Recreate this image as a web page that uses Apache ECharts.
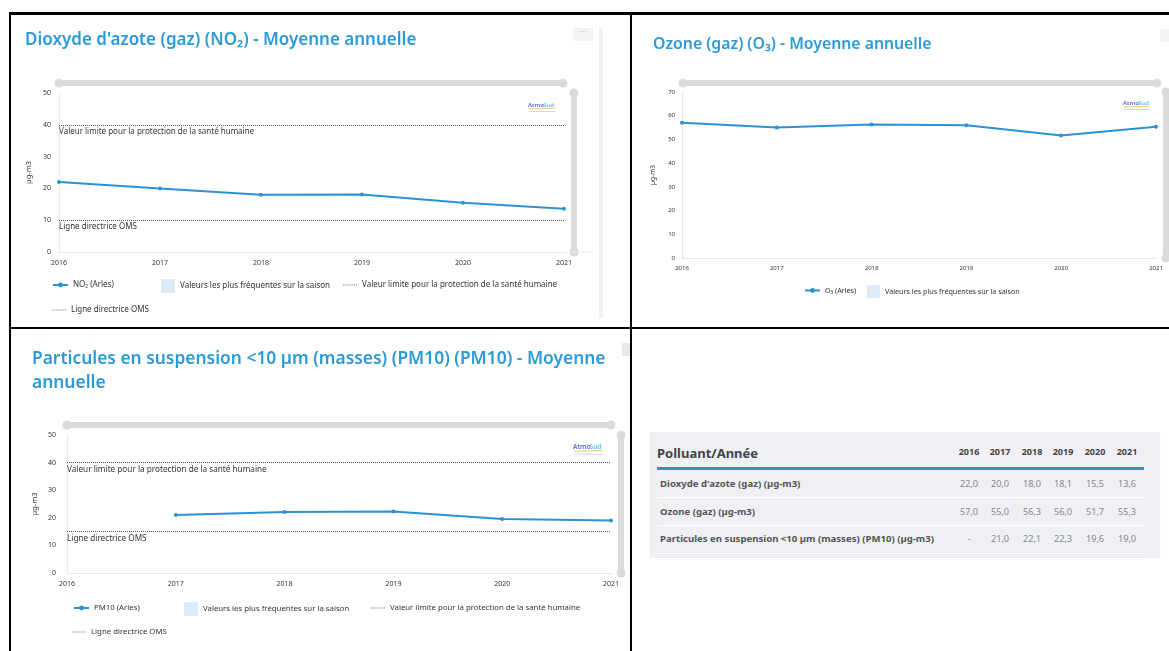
<!DOCTYPE html>
<html>
<head>
<meta charset="utf-8">
<script src="https://cdn.jsdelivr.net/npm/echarts@6/dist/echarts.min.js"></script>
<style>
html,body{margin:0;padding:0;background:#fff;overflow:hidden;}
#chart{position:absolute;left:0;top:0;width:1169px;height:651px;}
#tbl{position:absolute;left:650px;top:432px;width:510px;height:126px;background:#eef0f4;font-family:"Noto Sans",sans-serif;}
#tbl .t{position:absolute;white-space:nowrap;line-height:1;}
</style>
</head>
<body>
<div id="chart"></div>
<div id="tbl"></div>
<script>
// ---------- data ----------
const years = ['2016', '2017', '2018', '2019', '2020', '2021'];
const no2 = [22.0, 20.0, 18.0, 18.1, 15.5, 13.6];
const o3 = [57.0, 55.0, 56.3, 56.0, 51.7, 55.3];
const pm10 = [null, 21.0, 22.1, 22.3, 19.6, 19.0];
const no2Limit = 40, no2Oms = 10;
const pm10Limit = 40, pm10Oms = 15;
const yMax = [50, 70, 50];
const titles = [
  "Dioxyde d'azote (gaz) (NO\u2082) - Moyenne annuelle",
  "Ozone (gaz) (O\u2083) - Moyenne annuelle",
  "Particules en suspension <10 \u00b5m (masses) (PM10) (PM10) - Moyenne\nannuelle"
];
const seriesNames = ['NO\u2082 (Arles)', 'O\u2083 (Arles)', 'PM10 (Arles)'];
const freqName = 'Valeurs les plus fr\u00e9quentes sur la saison';
const limitName = 'Valeur limite pour la protection de la sant\u00e9 humaine';
const omsName = 'Ligne directrice OMS';
const unitName = '\u00b5g-m3';
const tableHeader = 'Polluant/Ann\u00e9e';
const tableRows = ["Dioxyde d'azote (gaz) (\u00b5g-m3)", 'Ozone (gaz) (\u00b5g-m3)', 'Particules en suspension <10 \u00b5m (masses) (PM10) (\u00b5g-m3)'];
const tableValues = [no2, o3, pm10];

// ---------- style ----------
const FONT = '"Noto Sans", sans-serif';
const BLUE = '#2a93d5';
const TITLE_BLUE = '#2b9ad8';
const TXT = '#333';
const BAR = '#dadada';
const DOTTED_ICON = 'path://M0 0h1v1H0zM2 0h1v1H2zM4 0h1v1H4zM6 0h1v1H6zM8 0h1v1H8zM10 0h1v1H10zM12 0h1v1H12zM14 0h1v1H14z';

const grids = [
  {left: 59, top: 93, width: 505, height: 159},
  {left: 682, top: 92, width: 474, height: 166},
  {left: 67, top: 435, width: 544, height: 138}
];
const axisFont = [7, 6, 7];
const yNameGap = [26, 25, 28];
const yLabelMargin = [8, 7, 11];

const xAxes = grids.map((g, i) => ({
  type: 'category', gridIndex: i, data: years, boundaryGap: false,
  axisLine: {lineStyle: {color: '#e8e8e8'}}, axisTick: {show: false},
  axisLabel: {fontSize: axisFont[i], color: TXT, margin: 7, fontFamily: FONT}
}));
const yAxes = grids.map((g, i) => ({
  type: 'value', gridIndex: i, min: 0, max: yMax[i], interval: 10,
  axisLine: {show: true, lineStyle: {color: '#e8e8e8'}}, axisTick: {show: false},
  splitLine: {show: false},
  axisLabel: {fontSize: axisFont[i], color: TXT, margin: yLabelMargin[i], fontFamily: FONT},
  name: unitName, nameLocation: 'middle', nameGap: yNameGap[i],
  nameTextStyle: {fontSize: axisFont[i] + 0.5, color: TXT, fontFamily: FONT}
}));

function markLines(limit, oms, fs) {
  return {
    silent: true, symbol: ['none', 'none'],
    lineStyle: {type: 'dotted', color: '#555', width: 1},
    label: {position: 'insideStartBottom', formatter: '{b}', fontSize: fs, color: TXT, fontFamily: FONT, distance: [0, 3]},
    data: [{yAxis: limit, name: limitName}, {yAxis: oms, name: omsName}]
  };
}
function mainLine(i, data, ml) {
  const s = {
    name: seriesNames[i], type: 'line', xAxisIndex: i, yAxisIndex: i, data: data,
    color: BLUE, lineStyle: {width: 2, color: BLUE}, symbol: 'circle', symbolSize: 4,
    itemStyle: {color: BLUE}, animation: false
  };
  if (ml) s.markLine = ml;
  return s;
}
function dummyBar(i) {
  return {name: freqName, type: 'bar', xAxisIndex: i, yAxisIndex: i, data: [], itemStyle: {color: '#dcebf7'}};
}
function dummyDotted(i, name) {
  return {name: name, type: 'line', xAxisIndex: i, yAxisIndex: i, data: [], symbol: 'none',
    color: '#777', itemStyle: {color: '#777'}, lineStyle: {type: 'dotted', color: '#777', width: 1}};
}

const series = [
  mainLine(0, no2, markLines(no2Limit, no2Oms, 8)), dummyBar(0), dummyDotted(0, limitName), dummyDotted(0, omsName),
  mainLine(1, o3, null), dummyBar(1),
  mainLine(2, pm10, markLines(pm10Limit, pm10Oms, 8.2)), dummyBar(2), dummyDotted(2, limitName), dummyDotted(2, omsName)
];

function lg(name, left, top, fs, opts) {
  return Object.assign({
    data: [name], left: left, top: top, padding: 0, itemWidth: 15, itemHeight: 6, itemGap: 0,
    textStyle: {fontSize: fs, color: TXT, fontFamily: FONT}, selectedMode: false
  }, opts || {});
}
function lgSq(left, top, fs, size) {
  return lg({name: freqName, icon: 'rect'}, left, top, fs, {itemWidth: size, itemHeight: size});
}
function lgDot(name, left, top, fs) {
  return lg({name: name, icon: DOTTED_ICON}, left, top, fs, {itemWidth: 14, itemHeight: 1});
}
const legends = [
  lg(seriesNames[0], 52, 281, 8), lgSq(161, 279, 8, 14), lgDot(limitName, 343, 281, 8), lgDot(omsName, 52, 306, 8),
  lg(seriesNames[1], 804, 287, 7.2), lgSq(867, 285, 7.2, 13),
  lg(seriesNames[2], 73, 604, 7.8), lgSq(184, 602, 7.8, 14), lgDot(limitName, 371, 604, 7.8), lgDot(omsName, 72, 628, 7.8)
];

const titleOpts = [
  {text: titles[0], left: 25, top: 32, padding: 0, textStyle: {fontSize: 17, fontWeight: 600, color: TITLE_BLUE, fontFamily: FONT}},
  {text: titles[1], left: 653, top: 36, padding: 0, textStyle: {fontSize: 15.8, fontWeight: 600, color: TITLE_BLUE, fontFamily: FONT}},
  {text: titles[2], left: 32, top: 347, padding: 0, textStyle: {fontSize: 17.4, fontWeight: 600, color: TITLE_BLUE, fontFamily: FONT, lineHeight: 24}}
];

// ---------- decorations ----------
function hBar(x1, x2, y) {
  return [
    {type: 'rect', shape: {x: x1, y: y - 3, width: x2 - x1, height: 6}, style: {fill: BAR}, silent: true},
    {type: 'circle', shape: {cx: x1, cy: y, r: 4.5}, style: {fill: BAR}, silent: true},
    {type: 'circle', shape: {cx: x2, cy: y, r: 4.5}, style: {fill: BAR}, silent: true}
  ];
}
function vBar(x, y1, y2) {
  return [
    {type: 'rect', shape: {x: x - 3, y: y1, width: 6, height: y2 - y1}, style: {fill: BAR}, silent: true},
    {type: 'circle', shape: {cx: x, cy: y1, r: 4.5}, style: {fill: BAR}, silent: true},
    {type: 'circle', shape: {cx: x, cy: y2, r: 4.5}, style: {fill: BAR}, silent: true}
  ];
}
function logo(x, y, s) {
  return [
    {type: 'text', x: x, y: y, style: {text: 'Atmo', fill: '#5a6cc7', fontSize: 6 * s, fontWeight: 600, fontFamily: FONT, verticalAlign: 'middle'}, silent: true},
    {type: 'text', x: x + 15 * s, y: y, style: {text: 'Sud', fill: '#5bc0ec', fontSize: 6 * s, fontWeight: 600, fontFamily: FONT, verticalAlign: 'middle'}, silent: true},
    {type: 'line', shape: {x1: x + 1, y1: y + 4 * s, x2: x + 27 * s, y2: y + 3.2 * s}, style: {stroke: '#f5b53d', lineWidth: 0.8}, silent: true},
    {type: 'rect', shape: {x: x + 1, y: y + 6 * s, width: 26 * s, height: 1}, style: {fill: '#c9d6ee'}, silent: true}
  ];
}
function blk(x, y, w, h) {
  return {type: 'rect', shape: {x: x, y: y, width: w, height: h}, style: {fill: '#000'}, silent: true, z: 100};
}
const graphics = [].concat(
  hBar(59, 563, 83), vBar(574, 93, 252),
  hBar(683, 1157, 83), vBar(1166, 92, 258),
  hBar(67, 611, 425), vBar(621, 435, 573),
  logo(528, 105, 1), logo(1123, 103, 1), logo(573, 447, 1.1),
  [
    {type: 'rect', shape: {x: 599, y: 28, width: 4, height: 290}, style: {fill: '#f0f1f3'}, silent: true},
    {type: 'rect', shape: {x: 573, y: 28, width: 20, height: 13}, style: {fill: '#f2f3f5'}, silent: true},
    {type: 'text', x: 583, y: 32, style: {text: '\u00b7\u00b7\u00b7', fill: '#aab', fontSize: 7, align: 'center', verticalAlign: 'middle'}, silent: true},
    {type: 'rect', shape: {x: 1160, y: 29, width: 9, height: 13}, style: {fill: '#f2f3f5'}, silent: true},
    {type: 'rect', shape: {x: 622, y: 343, width: 10, height: 13}, style: {fill: '#e6e8ee'}, silent: true},
    {type: 'rect', shape: {x: 564, y: 251.5, width: 29, height: 1}, style: {fill: '#ececec'}, silent: true},
    blk(9, 12, 1160, 3), blk(9, 12, 2, 639), blk(630, 12, 2, 639), blk(9, 327, 1160, 2)
  ]
);

const chart = echarts.init(document.getElementById('chart'), null, {renderer: 'canvas'});
chart.setOption({
  animation: false,
  backgroundColor: '#fff',
  title: titleOpts,
  grid: grids,
  xAxis: xAxes,
  yAxis: yAxes,
  legend: legends,
  series: series,
  graphic: graphics
});

// ---------- table ----------
const tbl = document.getElementById('tbl');
function put(text, left, cy, size, weight, color, align) {
  const d = document.createElement('div');
  d.className = 't';
  d.textContent = text;
  d.style.fontSize = size + 'px';
  d.style.fontWeight = weight;
  d.style.color = color;
  d.style.top = (cy - size * 0.55) + 'px';
  if (align === 'center') { d.style.left = (left - 30) + 'px'; d.style.width = '60px'; d.style.textAlign = 'center'; }
  else d.style.left = left + 'px';
  tbl.appendChild(d);
}
function hr(top, h, color) {
  const d = document.createElement('div');
  d.style.cssText = 'position:absolute;left:7px;width:487px;top:' + top + 'px;height:' + h + 'px;background:' + color + ';';
  tbl.appendChild(d);
}
const colX = [319, 350, 382, 413, 445, 477];
const rowY = [52, 80, 107];
const sepY = [65, 93, 121];
put(tableHeader, 7, 22, 13, 700, '#444');
years.forEach((y, j) => put(y, colX[j], 20, 9, 700, '#444', 'center'));
hr(35, 3, BLUE);
tableRows.forEach((r, i) => {
  put(r, 10, rowY[i], 9.6, 700, '#555');
  tableValues[i].forEach((v, j) => put(v == null ? '-' : v.toFixed(1).replace('.', ','), colX[j], rowY[i], 9.2, 400, '#8a8a8a', 'center'));
  hr(sepY[i], 1, '#ffffff');
});
</script>
</body>
</html>
